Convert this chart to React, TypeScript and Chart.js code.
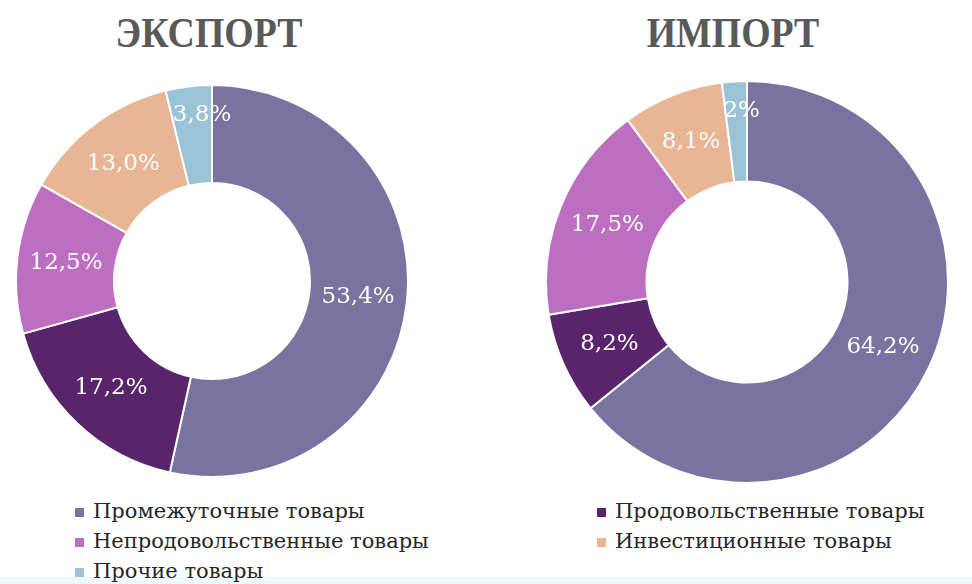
import React, { useEffect, useRef } from "react";
import { Chart, registerables } from "chart.js";

Chart.register(...registerables);

const categories = [
  "Промежуточные товары",
  "Продовольственные товары",
  "Непродовольственные товары",
  "Инвестиционные товары",
  "Прочие товары",
];
const exportValues = [53.4, 17.2, 12.5, 13.0, 3.8];
const importValues = [64.2, 8.2, 17.5, 8.1, 2];
const exportLabels = ["53,4%", "17,2%", "12,5%", "13,0%", "3,8%"];
const importLabels = ["64,2%", "8,2%", "17,5%", "8,1%", "2%"];
const colors = ["#7A73A0", "#58246B", "#BC6EC0", "#E8B694", "#9BC3D6"];
const titles = ["ЭКСПОРТ", "ИМПОРТ"];
const legendRows = [[0, 1], [2, 3], [4]];

const makeLabelPlugin = (labels: string[]) => ({
  id: "sliceLabels",
  afterDatasetsDraw(chart: any) {
    const ctx = chart.ctx;
    const meta = chart.getDatasetMeta(0);
    ctx.save();
    ctx.fillStyle = "#ffffff";
    ctx.font = "23px 'DejaVu Serif'";
    ctx.textAlign = "center";
    ctx.textBaseline = "middle";
    meta.data.forEach((arc: any, i: number) => {
      const { x, y, startAngle, endAngle, innerRadius, outerRadius } = arc.getProps(
        ["x", "y", "startAngle", "endAngle", "innerRadius", "outerRadius"],
        false
      );
      const span = endAngle - startAngle;
      // small slices: label pushed outward, like the "best fit" placement
      const small = span < 0.3;
      const a = small ? startAngle + span * 0.75 : startAngle + span / 2;
      const r = small ? innerRadius + (outerRadius - innerRadius) * 0.7 : (innerRadius + outerRadius) / 2;
      ctx.fillText(labels[i], x + Math.cos(a) * r, y + Math.sin(a) * r);
    });
    ctx.restore();
  },
});

function Donut(props: { values: number[]; labels: string[]; left: number; top: number; size: number }) {
  const ref = useRef<HTMLCanvasElement>(null);
  useEffect(() => {
    const chart = new Chart(ref.current as HTMLCanvasElement, {
      type: "doughnut",
      data: {
        labels: categories,
        datasets: [
          {
            data: props.values,
            backgroundColor: colors,
            borderColor: "#ffffff",
            borderWidth: 2,
          },
        ],
      },
      options: {
        responsive: false,
        animation: false,
        cutout: "50%",
        layout: { padding: 0 },
        plugins: { legend: { display: false }, tooltip: { enabled: false } },
      },
      plugins: [makeLabelPlugin(props.labels)],
    } as any);
    return () => chart.destroy();
  }, []);
  return (
    <canvas
      ref={ref}
      width={props.size}
      height={props.size}
      style={{ position: "absolute", left: props.left, top: props.top, width: props.size, height: props.size }}
    />
  );
}

const titleStyle: React.CSSProperties = {
  position: "absolute",
  top: 12,
  width: 300,
  textAlign: "center",
  fontFamily: "'Liberation Serif', serif",
  fontWeight: "bold",
  fontSize: 42,
  lineHeight: "42px",
  color: "#595959",
  transform: "scaleX(0.9)",
};

export default function App() {
  return (
    <div
      style={{
        position: "fixed",
        left: 0,
        top: 0,
        width: 972,
        height: 584,
        background: "#ffffff",
        overflow: "hidden",
      }}
    >
      <div style={{ ...titleStyle, left: 209 - 150 }}>{titles[0]}</div>
      <div style={{ ...titleStyle, left: 733 - 150 }}>{titles[1]}</div>
      <Donut values={exportValues} labels={exportLabels} left={15} top={84} size={394} />
      <Donut values={importValues} labels={importLabels} left={545} top={80} size={404} />
      <div style={{ position: "absolute", left: 0, top: 577, width: 972, height: 7, background: "#EEF7F9" }} />
      <div style={{ position: "absolute", left: 75, top: 496 }}>
        {legendRows.map((row, r) => (
          <div key={r} style={{ display: "flex", height: 30 }}>
            {row.map((idx, c) => (
              <div
                key={idx}
                style={{
                  width: c === 0 ? 522 : 360,
                  display: "flex",
                  alignItems: "center",
                  fontFamily: "'DejaVu Serif', serif",
                  fontSize: 21,
                  lineHeight: "30px",
                  color: "#262626",
                  whiteSpace: "nowrap",
                }}
              >
                <span
                  style={{
                    display: "inline-block",
                    width: 9,
                    height: 9,
                    background: colors[idx],
                    marginRight: 9,
                    marginTop: 2,
                  }}
                />
                {categories[idx]}
              </div>
            ))}
          </div>
        ))}
      </div>
    </div>
  );
}
